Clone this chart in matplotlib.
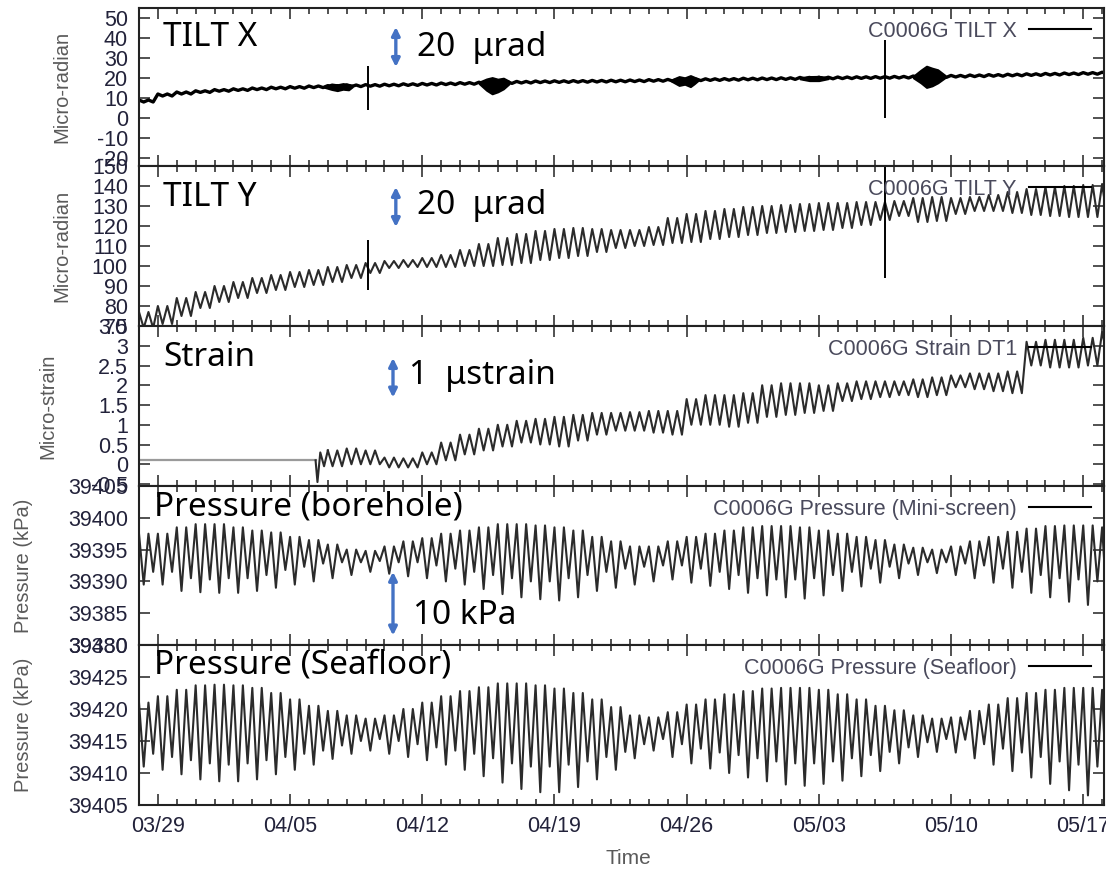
import numpy as np
import matplotlib
matplotlib.use('Agg')
import matplotlib.pyplot as plt
import matplotlib.dates as mdates
from matplotlib.lines import Line2D
from datetime import datetime, timedelta

plt.rcParams['axes.unicode_minus'] = False

# day index 0 = 03/28, one value per day
START = datetime(2013, 3, 28)

tiltx_hi = [9.0, 12.0, 13.0, 13.6, 14.2, 14.6, 15.0, 15.4, 15.7, 16.0, 16.2, 16.5, 16.7, 16.9,
            17.1, 17.3, 17.5, 17.7, 17.9, 18.1, 18.3, 18.5, 18.6, 18.7, 18.8, 18.9, 19.0, 19.2,
            19.3, 19.5, 19.6, 19.7, 19.9, 20.0, 20.1, 20.3, 20.4, 20.5, 20.6, 20.7, 20.8, 21.0,
            21.1, 21.3, 21.5, 21.7, 21.9, 22.1, 22.3, 22.5, 22.7, 22.9]
tiltx_lo = [8.0, 11.0, 12.0, 12.8, 13.4, 13.8, 14.2, 14.6, 14.9, 15.2, 15.4, 15.7, 15.9, 16.1,
            16.3, 16.5, 16.7, 16.9, 17.1, 17.3, 17.5, 17.7, 17.8, 17.9, 18.0, 18.1, 18.2, 18.4,
            18.5, 18.7, 18.8, 18.9, 19.1, 19.2, 19.3, 19.5, 19.6, 19.7, 19.8, 19.9, 20.0, 20.2,
            20.3, 20.5, 20.7, 20.9, 21.1, 21.3, 21.5, 21.7, 21.9, 22.1]

# dark blobs (dense shaking) in the TILT X record: day, upper and lower envelope
tiltx_blob_days = [[9.8, 10.2, 10.5, 10.8, 11.1, 11.3],
                   [18.0, 18.4, 18.7, 19.0, 19.3, 19.6],
                   [28.2, 28.6, 28.9, 29.2, 29.4, 29.6],
                   [35.0, 35.5, 36.0, 36.5],
                   [41.0, 41.4, 41.7, 42.0, 42.3, 42.7]]
tiltx_blob_hi = [[15.9, 17.1, 16.7, 17.3, 16.9, 16.5],
                 [18.0, 19.6, 20.3, 19.5, 20.0, 18.5],
                 [19.2, 20.8, 20.2, 21.3, 20.5, 19.6],
                 [20.3, 20.8, 20.9, 20.4],
                 [21.0, 24.0, 26.0, 25.0, 24.2, 21.3]]
tiltx_blob_lo = [[15.3, 14.2, 13.6, 14.3, 14.0, 15.5],
                 [17.2, 13.8, 12.0, 13.0, 14.5, 17.0],
                 [18.3, 16.2, 16.8, 15.6, 17.0, 18.6],
                 [19.5, 18.6, 18.6, 19.6],
                 [20.0, 17.5, 15.2, 16.0, 17.5, 20.2]]

tilty_hi = [77, 80, 84, 87, 90, 92, 94, 95.5, 97, 98, 99.5, 100.5, 101.5, 102.5, 103, 104,
            105.5, 108, 111, 114, 116, 117.5, 118.5, 119, 118.5, 118, 118, 119.5, 124, 126,
            127.5, 128.5, 129.5, 130, 130.5, 131, 131.5, 131.5, 132, 132, 132.5, 134, 134.5,
            134, 134.5, 135.5, 137, 138.5, 139.5, 140, 140.5, 141]
tilty_lo = [69, 71, 75, 79, 82, 84, 86.5, 88, 89.5, 90.5, 92, 94, 96.5, 99, 99.5, 99.5,
            99.5, 100, 100, 100.5, 101.5, 103, 104, 105, 107, 109, 110, 110.5, 111.5, 112,
            113.5, 114.5, 115.5, 116.5, 117, 117.5, 118, 119, 120.5, 123, 125, 122, 122.5,
            126, 127.5, 127.5, 126.5, 125.5, 125, 124.5, 124.5, 125]

# vertical offsets (spikes) seen in both tilt records
spike_day = [12.1, 39.5]
tiltx_spike_lo = [4, 0]
tiltx_spike_hi = [26, 39]
tilty_spike_lo = [88, 94]
tilty_spike_hi = [113, 150]

# strain: flat (no data) level, then the dip, then daily values from day 10
strain_flat_level = 0.1
strain_flat_end = 9.35
strain_pre_t = [9.35, 9.45, 9.6, 9.8]
strain_pre_v = [0.1, -0.45, 0.3, -0.05]
strain_first_day = 10
strain_hi = [0.35, 0.4, 0.35, 0.17, 0.15, 0.3, 0.55, 0.75, 0.9, 1.0, 1.1, 1.15, 1.2, 1.25,
             1.3, 1.3, 1.32, 1.35, 1.35, 1.65, 1.75, 1.75, 1.8, 2.0, 2.05, 2.05, 2.0, 2.05,
             2.1, 2.1, 2.1, 2.15, 2.2, 2.25, 2.3, 2.3, 2.35, 3.1, 3.15, 3.15, 3.2, 3.35]
strain_lo = [-0.05, 0.0, 0.0, -0.08, -0.08, 0.0, 0.1, 0.25, 0.35, 0.45, 0.55, 0.5, 0.45, 0.6,
             0.75, 0.85, 0.85, 0.8, 0.75, 1.0, 1.0, 0.95, 1.05, 1.2, 1.25, 1.3, 1.35, 1.6,
             1.65, 1.7, 1.75, 1.7, 1.75, 1.95, 1.9, 1.85, 1.8, 2.5, 2.45, 2.45, 2.5, 2.8]

bore_hi = [39397.5, 39397.5, 39398.5, 39399, 39399, 39398.5, 39398, 39397.7, 39397, 39396.5,
           39395.8, 39395, 39394.8, 39395.5, 39396.3, 39396.8, 39397.5, 39398, 39398.5, 39399,
           39399, 39398.8, 39398.5, 39398, 39397, 39396.3, 39395.5, 39395.5, 39396.3, 39397,
           39397.5, 39398, 39398.5, 39398.7, 39398.7, 39398.5, 39398, 39397.5, 39397, 39396.5,
           39395.8, 39395.3, 39395, 39395.5, 39396.3, 39397, 39397.8, 39398.3, 39398.7, 39398.8,
           39398.8, 39398.5]
bore_lo = [39389.5, 39389.5, 39388.5, 39388.3, 39388.2, 39388.2, 39388.5, 39389, 39389.5, 39390,
           39390.5, 39391, 39391.5, 39391.2, 39390.8, 39390.5, 39390, 39389.5, 39388.8, 39388,
           39387.5, 39387.2, 39387, 39387.5, 39388.5, 39389, 39389.5, 39390, 39390.3, 39389.8,
           39389.3, 39388.8, 39388.2, 39387.8, 39387.5, 39387.3, 39387.8, 39388.5, 39389.2, 39389.8,
           39390.5, 39391, 39391.3, 39391, 39390.5, 39389.8, 39389, 39388.2, 39387.5, 39386.8,
           39386.3, 39386.5]
bore_lo2 = [39391.5, 39391.5, 39390.5, 39390.3, 39390.5, 39390.5, 39391, 39391.8, 39392.3, 39392.8,
            39393, 39393, 39393.2, 39393, 39393, 39392.5, 39392, 39391.5, 39391, 39390.5,
            39390, 39390, 39390.5, 39391, 39391.5, 39392, 39392.3, 39392.5, 39392.5, 39392,
            39391.5, 39391, 39390.5, 39390.3, 39390.3, 39390.5, 39391, 39391.5, 39392, 39392.3,
            39392.8, 39393, 39393, 39392.8, 39392.5, 39392, 39391.5, 39391, 39390.5, 39390.3,
            39390, 39390.3]

sea_hi = [39421, 39422, 39423, 39423.7, 39423.8, 39423.7, 39423.3, 39422.5, 39421.5, 39420.5,
          39419.7, 39419, 39418.5, 39419, 39420, 39421, 39422, 39422.8, 39423.4, 39424,
          39424, 39423.7, 39423.2, 39422.5, 39421.5, 39420.3, 39419, 39418.7, 39419.5, 39420.7,
          39421.5, 39422.3, 39422.8, 39423.2, 39423.3, 39423.3, 39423, 39422.3, 39421.5, 39420.5,
          39419.8, 39419, 39418.5, 39418.7, 39419.7, 39420.7, 39421.7, 39422.5, 39423, 39423.3,
          39423.3, 39423]
sea_lo = [39411, 39410.5, 39409.8, 39409, 39408.7, 39408.7, 39409, 39409.8, 39410.5, 39411.3,
          39412.2, 39413, 39413.5, 39413, 39412.5, 39412, 39411.3, 39410.5, 39409.5, 39408.5,
          39407.5, 39407, 39407, 39407.8, 39409, 39410.5, 39412.3, 39413.5, 39412.5, 39411.5,
          39410.7, 39410, 39409.3, 39408.7, 39408.2, 39408, 39408.3, 39408.8, 39409.5, 39410.3,
          39411.5, 39412.5, 39413.3, 39413.2, 39412.3, 39411.3, 39410.3, 39409.3, 39408.3, 39407.3,
          39406.5, 39406.3]
sea_lo2 = [39413, 39412.5, 39412, 39411.5, 39411.3, 39411.5, 39412, 39412.5, 39413, 39413.5,
           39414.3, 39415, 39415.3, 39415, 39414.5, 39414, 39413.5, 39413, 39412.3, 39411.5,
           39411, 39411, 39411.3, 39411.8, 39412.5, 39413.3, 39414.5, 39415.3, 39414.5, 39413.8,
           39413.2, 39412.8, 39412.3, 39411.8, 39411.5, 39411.5, 39411.8, 39412.3, 39412.8, 39413.3,
           39414, 39414.8, 39415.3, 39415.2, 39414.5, 39413.8, 39413.2, 39412.5, 39411.8, 39411.3,
           39411, 39411]

panel_names = ["TILT X", "TILT Y", "Strain", "Pressure (borehole)", "Pressure (Seafloor)"]
legend_names = ["C0006G TILT X", "C0006G TILT Y", "C0006G Strain DT1",
                "C0006G Pressure (Mini-screen)", "C0006G Pressure (Seafloor)"]
ylabels = ["Micro-radian", "Micro-radian", "Micro-strain", "Pressure (kPa)", "Pressure (kPa)"]
ylims = [(-24, 55), (70, 150), (-0.55, 3.5), (39380, 39405), (39405, 39430)]
yticks = [np.arange(-20, 51, 10), np.arange(70, 151, 10), np.arange(-0.5, 3.51, 0.5),
          np.arange(39380, 39406, 5), np.arange(39405, 39431, 5)]
scale_len = [20, 20, 1, 10]
scale_text = ["20  \u03bcrad", "20  \u03bcrad", "1  \u03bcstrain", "10 kPa"]


def day2date(d):
    return START + timedelta(days=float(d))


def zigzag(hi, lo, lo2=None, first_day=0):
    # four turning points per day: high, low, high, second low
    t, v = [], []
    for k in range(len(hi)):
        d = first_day + k
        l2 = lo[k] if lo2 is None else lo2[k]
        t += [day2date(d), day2date(d + 0.25), day2date(d + 0.5), day2date(d + 0.75)]
        v += [hi[k], lo[k], hi[k], l2]
    return t, v


W, H = 1106, 869
fig = plt.figure(figsize=(W / 100, H / 100), dpi=100)

tick_font = ['Liberation Sans', 'DejaVu Sans']
big_font = ['Noto Sans', 'DejaVu Sans']
tick_color = '#22223a'
label_color = '#5a5a5a'

left_px, right_px = 139, 1104
edges_px = [8, 166, 326, 486, 645, 805]
label_x_px = [71, 71, 57, 33, 33]

axes = []
for i in range(5):
    top, bot = edges_px[i], edges_px[i + 1]
    ax = fig.add_axes([left_px / W, 1 - bot / H, (right_px - left_px) / W, (bot - top) / H])
    axes.append(ax)

xmin = day2date(0)
xmax = day2date(51.1)
major_days = [day2date(d) for d in range(1, 52, 7)]

series = [zigzag(tiltx_hi, tiltx_lo), zigzag(tilty_hi, tilty_lo),
          zigzag(strain_hi, strain_lo, first_day=strain_first_day),
          zigzag(bore_hi, bore_lo, bore_lo2), zigzag(sea_hi, sea_lo, sea_lo2)]

for i, ax in enumerate(axes):
    t, v = series[i]
    if i == 0:
        ax.plot(t, v, color='black', lw=2.4)
        for bd, bh, bl in zip(tiltx_blob_days, tiltx_blob_hi, tiltx_blob_lo):
            ax.fill_between([day2date(d) for d in bd], bl, bh, color='black', lw=1.2,
                            edgecolor='black')
        ax.vlines([day2date(d) for d in spike_day], tiltx_spike_lo, tiltx_spike_hi,
                  color='black', lw=1.4)
    else:
        if i == 2:
            ax.plot([day2date(0), day2date(strain_flat_end)], [strain_flat_level] * 2,
                    color='#9a9a9a', lw=1.6)
            ax.plot([day2date(d) for d in strain_pre_t] + t[:1], strain_pre_v + v[:1],
                    color='#2b2b2b', lw=1.5)
        ax.plot(t, v, color='#2b2b2b', lw=1.5)
    if i == 1:
        ax.vlines([day2date(d) for d in spike_day], tilty_spike_lo, tilty_spike_hi,
                  color='black', lw=1.4)

    ax.set_xlim(xmin, xmax)
    ax.set_ylim(*ylims[i])
    ax.set_yticks(yticks[i])
    ax.set_yticklabels(['%g' % y for y in yticks[i]])
    ax.set_xticks(major_days)
    ax.xaxis.set_minor_locator(mdates.DayLocator())
    ax.xaxis.set_major_formatter(mdates.DateFormatter('%m/%d'))
    ax.tick_params(which='both', direction='in', top=True, right=True, width=1.1,
                   color='#222222', labelsize=15.5, labelcolor=tick_color, pad=8)
    ax.tick_params(which='major', length=8)
    ax.tick_params(which='minor', length=4.5)
    for lab in ax.get_yticklabels() + ax.get_xticklabels():
        lab.set_family(tick_font)
    for s in ax.spines.values():
        s.set_linewidth(1.5)
        s.set_color('#222222')
    if i < 4:
        ax.tick_params(labelbottom=False)

    ax.set_ylabel(ylabels[i], family=tick_font, fontsize=14.5, color=label_color)
    ax.yaxis.set_label_coords((label_x_px[i] - left_px) / (right_px - left_px), 0.5)

    ax.legend([Line2D([], [], color='black', lw=1.5)], [legend_names[i]], loc='upper right',
              frameon=False, markerfirst=False, handlelength=2.9, handletextpad=0.55,
              borderaxespad=0.25, borderpad=0.35, prop={'family': tick_font, 'size': 15.5},
              labelcolor='#4a4a5c')

axes[4].set_xlabel('Time', family=tick_font, fontsize=15, color=label_color)
axes[4].xaxis.set_label_coords(0.507, -(858 - 805) / (805 - 645))
axes[4].xaxis.label.set_va('center')


def fx(x):
    return x / W


def fy(y):
    return 1 - y / H


name_pos = [(163, 37), (163, 198), (163, 357), (154, 507), (154, 665)]
for (x, y), name in zip(name_pos, panel_names):
    fig.text(fx(x), fy(y), name, family=big_font, fontsize=24, fontweight='light',
             color='black', va='center', ha='left')

# blue scale bars
bar_day = [13.6, 13.6, 13.45, 13.45]
bar_base = [25.5, 119.5, 1.69, 39381.5]
text_pos = [(417, 48), (417, 205), (409, 376), (413, 615)]
for i in range(4):
    ax = axes[i]
    d = day2date(bar_day[i])
    ax.annotate('', xy=(d, bar_base[i] + scale_len[i]), xytext=(d, bar_base[i]),
                arrowprops=dict(arrowstyle='<|-|>', color='#4472C4', lw=2.4,
                                mutation_scale=12, shrinkA=0, shrinkB=0))
    x, y = text_pos[i]
    fig.text(fx(x), fy(y), scale_text[i], family=big_font, fontsize=24, fontweight='light',
             color='black', va='center', ha='left')

fig.savefig('out.png', dpi=100)
